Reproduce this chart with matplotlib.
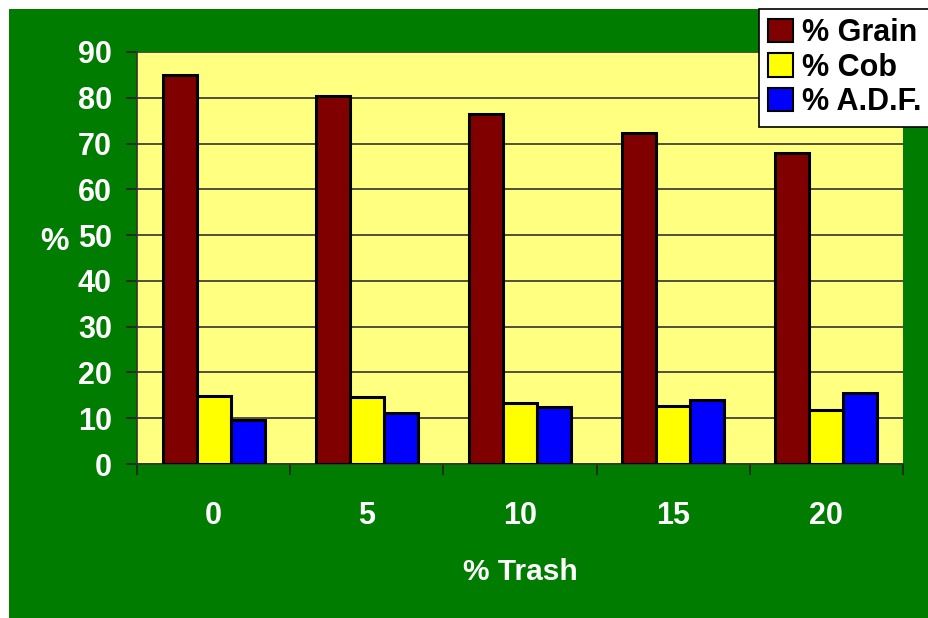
"""Grain, cob and A.D.F. share as trash content rises."""

import matplotlib
matplotlib.use("Agg")
import matplotlib.pyplot as plt
from matplotlib.patches import Rectangle, Patch
import numpy as np

trash = ["0", "5", "10", "15", "20"]
grain = [85.0, 80.3, 76.5, 72.2, 67.9]
cob = [14.9, 14.6, 13.4, 12.7, 11.9]
adf = [9.7, 11.1, 12.5, 14.0, 15.5]

series = [("% Grain", grain, "#800000"),
          ("% Cob", cob, "#FFFF00"),
          ("% A.D.F.", adf, "#0000FF")]

plt.rcParams["font.family"] = ["Liberation Sans", "DejaVu Sans"]
plt.rcParams["font.weight"] = "bold"

W, H = 929, 618
fig = plt.figure(figsize=(W / 100, H / 100), dpi=100)
fig.patch.set_facecolor("white")

# green chart area, with a thin white margin top and left
fig.patches.append(Rectangle((9 / W, 0), 1 - 9 / W, 1 - 9 / H,
                             transform=fig.transFigure, facecolor="#007C00",
                             edgecolor="none", zorder=-10))

ax = fig.add_axes([137 / W, 1 - 464 / H, (903 - 137) / W, (464 - 52) / H])
ax.set_facecolor("#FFFF80")

x = np.arange(len(trash))
width = 0.222
for i, (name, vals, color) in enumerate(series):
    ax.bar(x + (i - 1) * width, vals, width, color=color, edgecolor="black",
           linewidth=2.2, zorder=3)

ax.set_xlim(-0.5, len(trash) - 0.5)
ax.set_ylim(0, 90)
ax.set_yticks(range(0, 91, 10))
ax.yaxis.grid(True, color="#333333", linewidth=1.2, zorder=1)
ax.set_axisbelow(True)

ax.set_xticks(x)
ax.set_xticklabels(trash)
ax.set_xticks(np.arange(-0.5, len(trash)), minor=True)
ax.tick_params(axis="x", which="major", length=0, pad=27,
               labelsize=22, labelcolor="white")
ax.tick_params(axis="x", which="minor", length=8, width=1.2,
               direction="out", color="#222222")
ax.tick_params(axis="y", length=8, width=1.2, direction="out",
               color="#222222", pad=10, labelsize=22, labelcolor="white")

for side in ["top", "right"]:
    ax.spines[side].set_visible(False)
for side in ["left", "bottom"]:
    ax.spines[side].set_color("#333333")
    ax.spines[side].set_linewidth(1.2)

fig.text(520 / W, 1 - 572 / H, "% Trash", color="white", fontsize=21.5,
         fontweight="bold", ha="center", va="center")
fig.text(55 / W, 1 - 242 / H, "%", color="white", fontsize=23,
         fontweight="bold", ha="center", va="center")

handles = [Patch(facecolor=c, edgecolor="black", linewidth=1.5)
           for _, _, c in series]
leg = fig.legend(handles, [s[0] for s in series],
                 loc="upper left", bbox_to_anchor=(759 / W, 1 - 9 / H),
                 fontsize=22, frameon=True, fancybox=False,
                 handlelength=0.8, handleheight=0.8, handletextpad=0.3,
                 labelspacing=0.15, borderpad=0.3, borderaxespad=0)
leg.get_frame().set_edgecolor("black")
leg.get_frame().set_linewidth(1.2)
leg.get_frame().set_facecolor("white")
leg.get_frame().set_alpha(1)

fig.savefig("out.png", dpi=100)
